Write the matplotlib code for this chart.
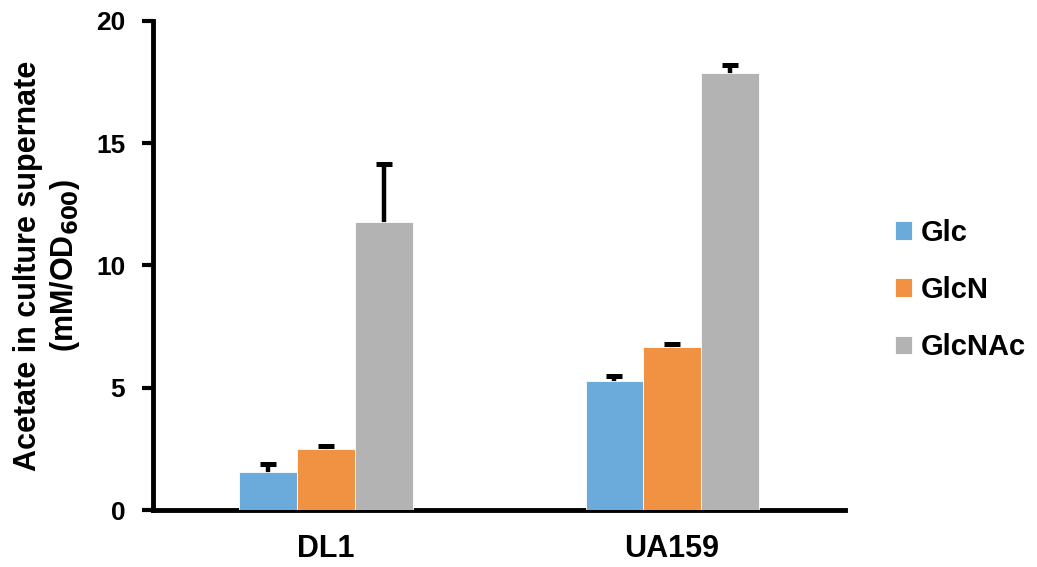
import matplotlib.pyplot as plt
import numpy as np

plt.rcParams['font.family'] = ['Liberation Sans', 'DejaVu Sans']
plt.rcParams['font.weight'] = 'bold'

strains = ["DL1", "UA159"]
sugars = ["Glc", "GlcN", "GlcNAc"]
colors = ["#6aabdb", "#f09241", "#b3b3b3"]

# acetate (mM/OD600), rows follow sugars, columns follow strains
means = [
    [1.57, 5.26],
    [2.48, 6.65],
    [11.78, 17.86],
]
errs = [
    [0.31, 0.22],
    [0.14, 0.15],
    [2.36, 0.34],
]

fig = plt.figure(figsize=(10.37, 5.67), dpi=100)
ax = fig.add_axes([0.1475, 0.1005, 0.6675, 0.8625])

x = np.arange(len(strains))
w = 1 / 6
for i, s in enumerate(sugars):
    ax.bar(x + (i - 1) * w, means[i], w, color=colors[i], label=s,
           edgecolor="white", linewidth=0.6, zorder=3)
    # lower half of the bar sits behind the bar, only upper half shows
    ax.errorbar(x + (i - 1) * w, means[i], yerr=errs[i],
                fmt="none", ecolor="black", elinewidth=3.2, capsize=6, capthick=3.6,
                zorder=2)

ax.set_xlim(-0.5, 1.5)
ax.set_ylim(0, 20)
ax.set_yticks([0, 5, 10, 15, 20])
ax.set_xticks(x)
ax.set_xticklabels(strains)
ax.tick_params(axis="x", length=0, pad=17, labelsize=22)
ax.tick_params(axis="y", length=8, width=3, pad=12, labelsize=19)
for side in ["top", "right"]:
    ax.spines[side].set_visible(False)
for side in ["left", "bottom"]:
    ax.spines[side].set_linewidth(3.5)

ax.set_ylabel("Acetate in culture supernate\n(mM/OD$_{\\mathbf{600}}$)",
              fontsize=22, fontweight="bold", labelpad=10, linespacing=1.2)

ax.legend(loc="center left", bbox_to_anchor=(1.072, 0.45), frameon=False,
          fontsize=21, handlelength=0.6, handleheight=0.6, handletextpad=0.3,
          labelspacing=1.0, borderpad=0, borderaxespad=0)

fig.savefig("out.png", dpi=100)
